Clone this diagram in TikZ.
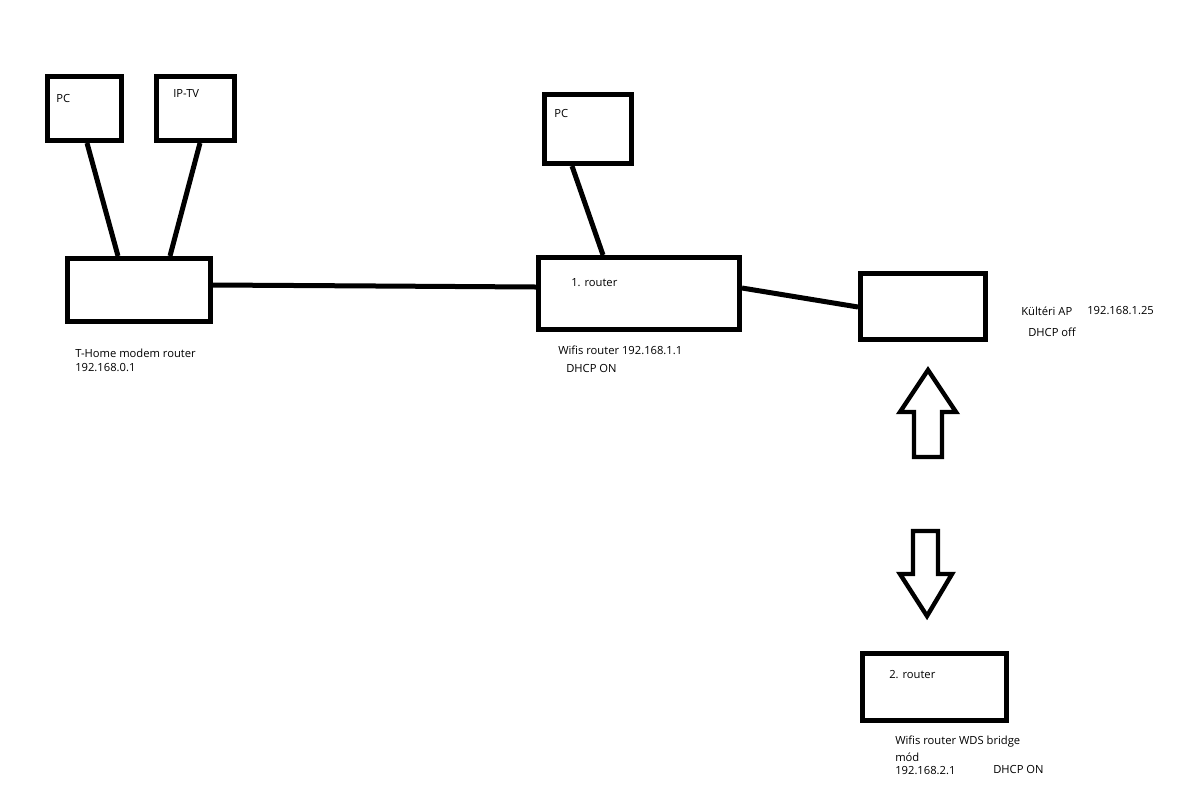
\documentclass[tikz,border=0pt]{standalone}
\usepackage{fontspec}
\setmainfont{Open Sans}
\usetikzlibrary{fit,calc}
\begin{document}
\begin{tikzpicture}[x=0.75pt,y=-0.75pt,
  box/.style={draw=black,line width=3.75pt,inner sep=0pt,fill=white},
  wire/.style={draw=black,line width=3.75pt},
  bigarrow/.style={draw=black,line width=3.3pt,line join=miter,fill=white},
  lbl/.style={anchor=west,inner sep=0pt,font=\fontsize{8.4pt}{10pt}\selectfont,text=black}]
\useasboundingbox[fill=white] (0,0) rectangle (1198,797);
% boxes
\node[box,fit={(47.5,76.5)(121.5,140.5)}] (pc1) {};
\node[box,fit={(156.5,76.5)(234.5,140.5)}] (iptv) {};
\node[box,fit={(67.5,258.5)(210.5,321.5)}] (modem) {};
\node[box,fit={(544.5,94.5)(631.5,163.5)}] (pc2) {};
\node[box,fit={(538.5,257.5)(739.5,329.5)}] (r1) {};
\node[box,fit={(860.5,273.5)(985.5,339.5)}] (ap) {};
\node[box,fit={(862.5,653.5)(1006.5,720.5)}] (r2) {};
% connectors
\draw[wire] ($(pc1.south)+(2.5,0)$) -- ($(modem.north)+(-21,0)$);
\draw[wire] ($(iptv.south)+(4.5,0)$) -- ($(modem.north)+(31,0)$);
\coordinate (kink) at (377,286);
\draw[wire] ($(modem.east)+(0,-5)$) -- (kink) -- ($(r1.west)+(0,-6.5)$);
\draw[wire] ($(pc2.south)+(-16,0)$) -- ($(r1.north)+(-36,0)$);
\draw[wire] ($(r1.east)+(0,-5.5)$) -- ($(ap.west)+(0,0.5)$);
% arrows
\draw[bigarrow] (928,370) -- (956,412) -- (942,412) -- (942,457) -- (914,457) -- (914,412) -- (900,412) -- cycle;
\draw[bigarrow] (913,531) -- (938,531) -- (938,574) -- (952,574) -- (927,616) -- (900,574) -- (913,574) -- cycle;
% labels
\node[lbl] (tpc1) at (56,98) {PC};
\node[lbl] (tiptv) at (173,93) {IP-TV};
\node[lbl] (tmodem1) at (75,353) {T-Home modem router};
\node[lbl] (tmodem2) at (75,368) {192.168.0.1};
\node[lbl] (tpc2) at (554,113) {PC};
\node[lbl] (tr1) at (571,283) {1. router};
\node[lbl] (tr1a) at (558,350) {Wifis router 192.168.1.1};
\node[lbl] (tr1b) at (566,368) {DHCP ON};
\node[lbl] (tap1) at (1021,311) {Kültéri AP};
\node[lbl] (tap2) at (1087,311) {192.168.1.25};
\node[lbl] (tap3) at (1028,332) {DHCP off};
\node[lbl] (tr2) at (889,675) {2. router};
\node[lbl] (tr2a) at (895,742) {Wifis router WDS bridge};
\node[lbl] (tr2b) at (895,757) {mód};
\node[lbl] (tr2c) at (895,771) {192.168.2.1};
\node[lbl] (tr2d) at (993,769) {DHCP ON};
\end{tikzpicture}
\end{document}
